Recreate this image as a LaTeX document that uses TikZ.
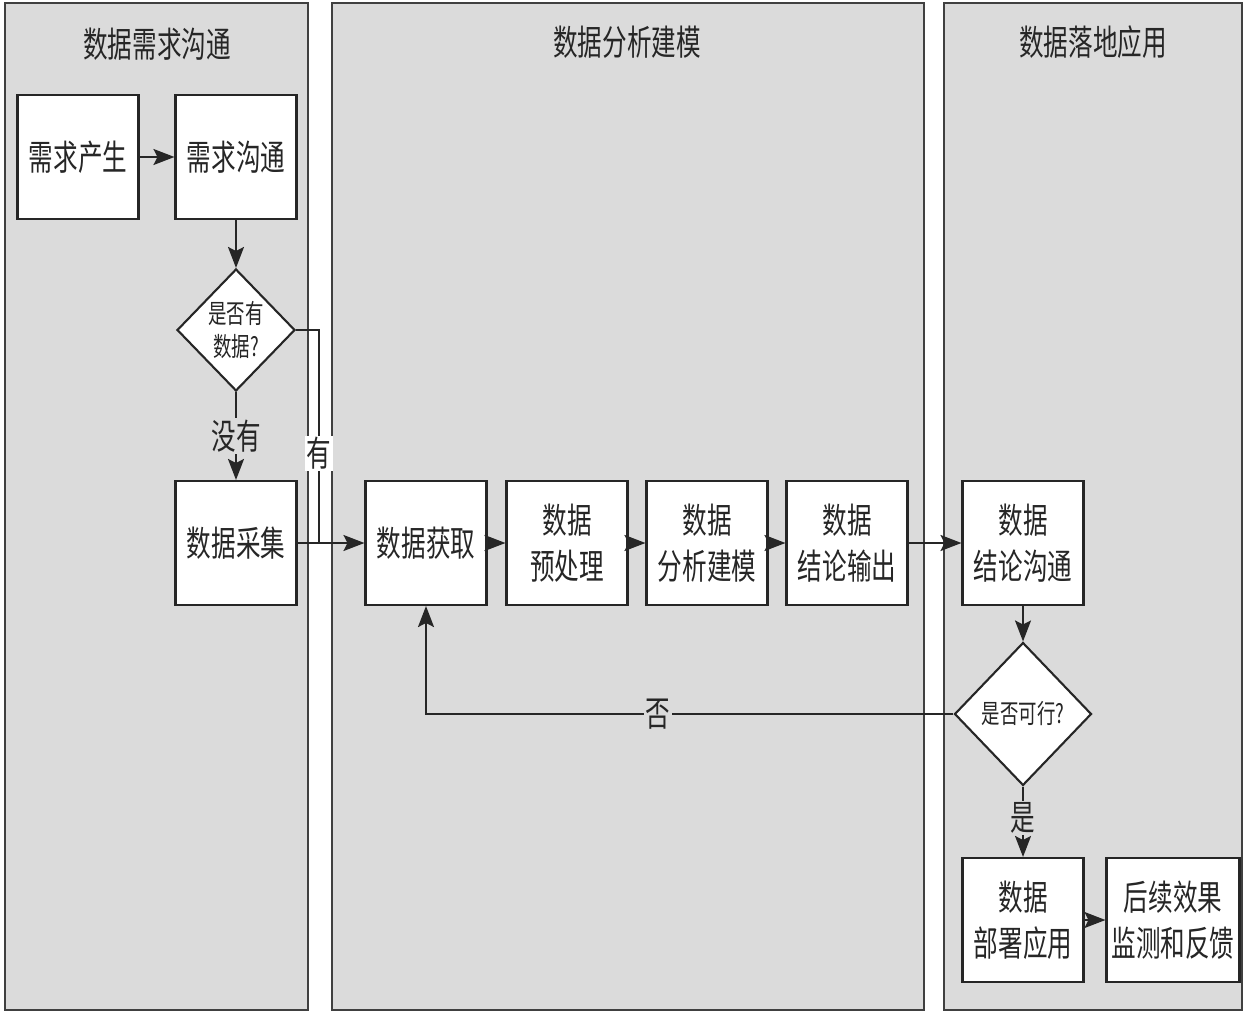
\documentclass[tikz,border=0pt]{standalone}
\usepackage{fontspec}
\newfontfamily\cjk[FakeStretch=0.7]{Noto Sans CJK SC}
\usetikzlibrary{shapes.geometric,arrows.meta}
\begin{document}
\begin{tikzpicture}[x=0.02cm,y=-0.02cm,
  lane/.style={draw=black!75,line width=0.9pt,fill=black!14},
  big/.style={font=\cjk\fontsize{20}{26}\selectfont,text=black!85},
  box/.style={big,draw=black!85,line width=1.2pt,fill=white,minimum width=2.42cm,minimum height=2.48cm,inner sep=0pt,align=center},
  dec/.style={diamond,draw=black!85,line width=1.2pt,fill=white,inner sep=0pt,aspect=1,align=center,font=\cjk\fontsize{15}{19}\selectfont,text=black!85},
  arr/.style={draw=black!85,line width=1.2pt,-{Stealth[length=0.42cm,width=0.32cm,inset=0.08cm]}},
  ln/.style={draw=black!85,line width=1.2pt},
  lbl/.style={big,inner sep=1pt}
]
\useasboundingbox (0,0) rectangle (1246,1013);
\fill[white] (0,0) rectangle (1246,1013);
% lanes
\draw[lane] (5,3) rectangle (308,1010);
\draw[lane] (332,3) rectangle (924,1010);
\draw[lane] (944,3) rectangle (1242,1010);
\node[big] (t1) at (157,44) {数据需求沟通};
\node[big] (t2) at (627,42) {数据分析建模};
\node[big] (t3) at (1093,42) {数据落地应用};
% nodes
\node[box] (a) at (78,157) {需求产生};
\node[box] (b) at (236,157) {需求沟通};
\node[dec,minimum width=2.36cm,minimum height=2.44cm] (d1) at (236,330) {是否有\\数据?};
\node[box] (c) at (236,543) {数据采集};
\node[box] (g) at (426,543) {数据获取};
\node[box] (p) at (567,543) {数据\\预处理};
\node[box] (m) at (707,543) {数据\\分析建模};
\node[box] (o) at (847,543) {数据\\结论输出};
\node[box] (t) at (1023,543) {数据\\结论沟通};
\node[dec,minimum width=2.74cm,minimum height=2.86cm] (d2) at (1023,714) {是否可行?};
\node[box] (dep) at (1023,920) {数据\\部署应用};
\node[box,minimum width=2.66cm] (fb) at (1173,920) {后续效果\\监测和反馈};
\coordinate (j) at (319,543);
% connectors
\draw[arr] (a) -- (b);
\draw[arr] (b.south) -- (d1.north);
\draw[arr] (d1.south) -- node[lbl,fill=black!14] {没有} (c.north);
\draw[ln] (d1.east) -| node[lbl,pos=0.79,fill=white] {有} (j);
\draw[arr] (c.east) -- (g.west);
\draw[arr] (g) -- (p);
\draw[arr] (p) -- (m);
\draw[arr] (m) -- (o);
\draw[arr] (o) -- (t);
\draw[arr] (t.south) -- (d2.north);
\draw[arr] (d2.west) -| node[lbl,pos=0.28,fill=black!14] {否} (g.south);
\draw[arr] (d2.south) -- node[lbl,pos=0.45,fill=black!14] {是} (dep.north);
\draw[arr] (dep) -- (fb);
\end{tikzpicture}
\end{document}
